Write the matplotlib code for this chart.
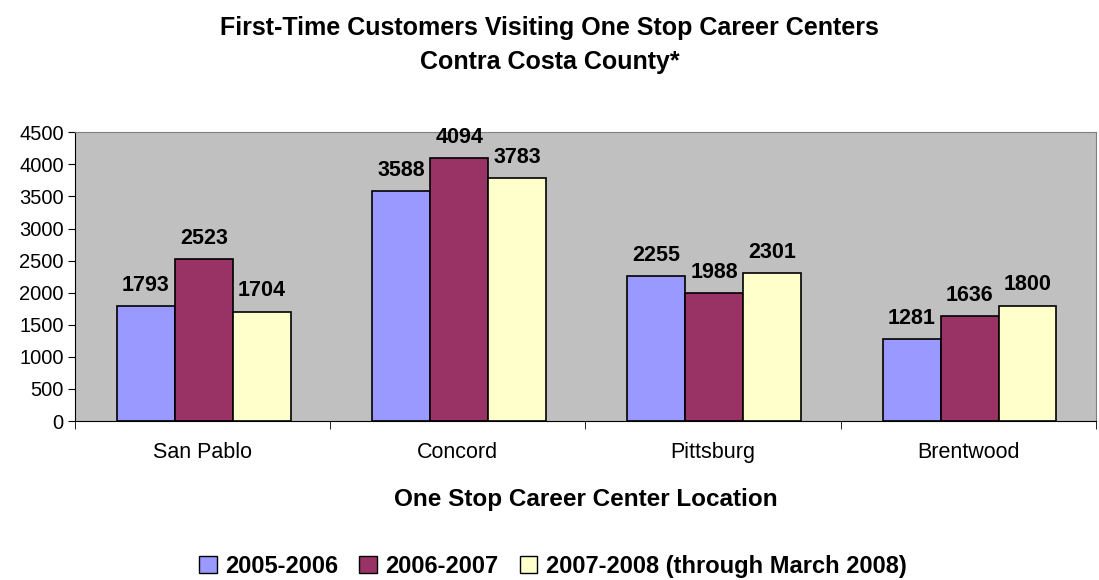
import numpy as np
import matplotlib
matplotlib.use('Agg')
from matplotlib import pyplot
from matplotlib.patches import Patch

# data
locations = ['San Pablo', 'Concord', 'Pittsburg', 'Brentwood']
series_names = ['2005-2006', '2006-2007', '2007-2008 (through March 2008)']
fy_0506 = [1793, 3588, 2255, 1281]
fy_0607 = [2523, 4094, 1988, 1636]
fy_0708 = [1704, 3783, 2301, 1800]
colors = ['#9999FF', '#993366', '#FFFFCC']

pyplot.rcParams['font.family'] = ['Liberation Sans', 'DejaVu Sans']

fig = pyplot.figure(figsize=(10.99, 5.8), dpi=100)
ax = fig.add_axes([0.0682, 0.274, 0.929, 0.498])
ax.set_facecolor('#C0C0C0')

x = np.arange(len(locations))
width = 0.227
for k, vals in enumerate([fy_0506, fy_0607, fy_0708]):
    pos = x + (k - 1) * width + 0.005
    ax.bar(pos, vals, width, color=colors[k], edgecolor='black', linewidth=1.2, zorder=2)
    for px, v in zip(pos, vals):
        ax.annotate(str(v), (px, v), xytext=(0, 11), textcoords='offset points',
                    ha='center', va='baseline', fontsize=15.5, fontweight='bold')

ax.set_xlim(-0.5, len(locations) - 0.5)
ax.set_ylim(0, 4500)
ax.set_yticks(np.arange(0, 4501, 500))
ax.tick_params(axis='y', direction='out', length=5, labelsize=14.5, pad=3)

# category labels centred, ticks at the boundaries
ax.set_xticks(x)
ax.set_xticklabels(locations, fontsize=15.5)
ax.set_xticks(np.arange(-0.5, len(locations), 1.0), minor=True)
ax.tick_params(axis='x', which='major', length=0, pad=15)
ax.tick_params(axis='x', which='minor', direction='out', length=6)

for side in ['top', 'right']:
    ax.spines[side].set_color('#808080')
for side in ['left', 'bottom']:
    ax.spines[side].set_color('black')

ax.set_xlabel('One Stop Career Center Location', fontsize=17.5, fontweight='bold', labelpad=18)

fig.suptitle('First-Time Customers Visiting One Stop Career Centers\nContra Costa County*',
             fontsize=18, fontweight='bold', y=0.973, linespacing=1.52)

handles = [Patch(facecolor=c, edgecolor='black', linewidth=1.0) for c in colors]
fig.legend(handles, series_names, loc='center', bbox_to_anchor=(0.503, 0.024),
           ncol=3, frameon=False, prop={'size': 17, 'weight': 'bold'},
           handlelength=0.75, handleheight=0.75, handletextpad=0.35, columnspacing=0.9)

fig.savefig('out.png', dpi=100)
